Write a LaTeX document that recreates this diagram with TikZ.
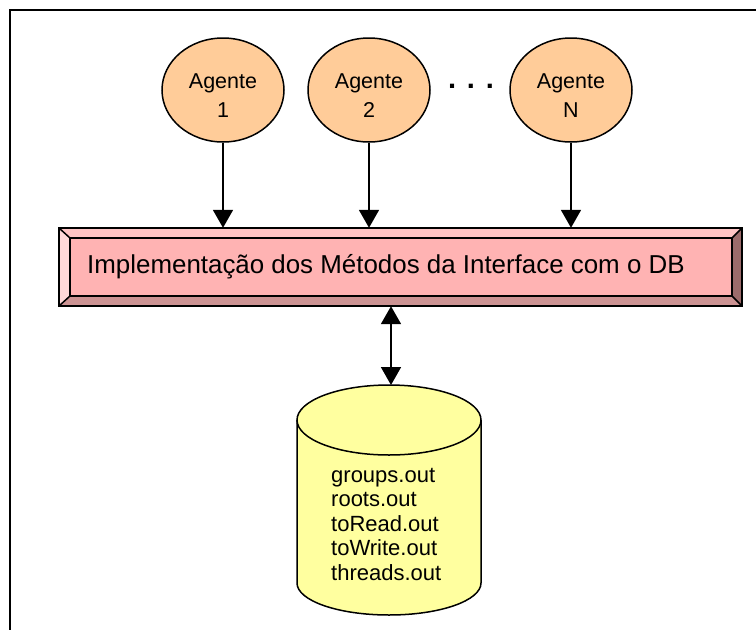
\documentclass[tikz,border=0pt]{standalone}
\usepackage{fontspec}
\setmainfont{Liberation Sans}
\usetikzlibrary{shapes.geometric,arrows.meta,calc}
\definecolor{agentfill}{HTML}{FFCC99}
\definecolor{dbfill}{HTML}{FFFF9F}
\definecolor{bevface}{HTML}{FFB3B3}
\definecolor{bevtop}{HTML}{FFC4C4}
\definecolor{bevleft}{HTML}{FFD9D9}
\definecolor{bevright}{HTML}{9C6B6B}
\definecolor{bevbottom}{HTML}{CC9393}
% tall strut on the first line, lowers the two-line agent labels a little
\newcommand{\tallstrut}{\rule{0pt}{26pt}}

\begin{document}
\begin{tikzpicture}[x=1pt,y=-1pt,
  agent/.style={ellipse,draw,line width=1.5pt,fill=agentfill,minimum width=122pt,
    minimum height=104pt,inner sep=0pt,align=center,font=\fontsize{21.5}{29}\selectfont},
  tip/.tip={Triangle[length=18pt,width=20pt]},
  flow/.style={line width=1.8pt,-tip},
  dbline/.style={anchor=base west,inner sep=0pt,font=\fontsize{22}{24.5}\selectfont},
  edge/.style={line width=1.5pt,line join=miter}]

\useasboundingbox (0,0) rectangle (756,630);

% page frame
\draw[line width=1.5pt] (10,630) -- (10,10) -- (756,10);

% agents
\node[agent] (a1) at (223,90) {\tallstrut Agente\\1};
\node[agent] (a2) at (369,90) {\tallstrut Agente\\2};
\node[agent] (aN) at (571,90) {\tallstrut Agente\\N};
\node[inner sep=0pt,font=\bfseries\fontsize{29}{29}\selectfont] (dots) at (471,86) {. . .};

% bevelled interface box
\fill[bevtop]    (59,228) -- (742,228) -- (732,238) -- (70,238) -- cycle;
\fill[bevleft]   (59,228) -- (70,238) -- (70,296) -- (59,306) -- cycle;
\fill[bevright]  (742,228) -- (742,306) -- (732,296) -- (732,238) -- cycle;
\fill[bevbottom] (59,306) -- (742,306) -- (732,296) -- (70,296) -- cycle;
\fill[bevface]   (70,238) rectangle (732,296);
\draw[edge] (59,228) rectangle (742,306);
\draw[edge] (70,238) rectangle (732,296);
\draw[edge] (59,228) -- (70,238) (742,228) -- (732,238)
            (59,306) -- (70,296) (742,306) -- (732,296);
\node[minimum width=683pt,minimum height=78pt,inner sep=0pt] (box) at (400.5,267) {};
\node[anchor=west,inner sep=0pt,font=\fontsize{25.9}{30}\selectfont] (title) at (87,267)
  {Implementação dos Métodos da Interface com o DB};

% database cylinder
\filldraw[fill=dbfill,line width=1.5pt] (297,420) -- (297,583)
  arc[start angle=180,end angle=0,x radius=92,y radius=32] -- (481,420);
\filldraw[fill=dbfill,line width=1.5pt] (389,420) ellipse [x radius=92,y radius=35];
\coordinate (dbtop) at (391,385);
\node[dbline] (f1) at (331,482) {groups.out};
\node[dbline] (f2) at (331,506.5) {roots.out};
\node[dbline] (f3) at (331,531) {toRead.out};
\node[dbline] (f4) at (331,555.5) {toWrite.out};
\node[dbline] (f5) at (331,580) {threads.out};

% connectors
\draw[flow] (a1.south) -- (a1.south |- box.north);
\draw[flow] (a2.south) -- (a2.south |- box.north);
\draw[flow] (aN.south) -- (aN.south |- box.north);
\draw[line width=1.8pt,tip-tip] (box.south -| dbtop) -- (dbtop);
\end{tikzpicture}
\end{document}
